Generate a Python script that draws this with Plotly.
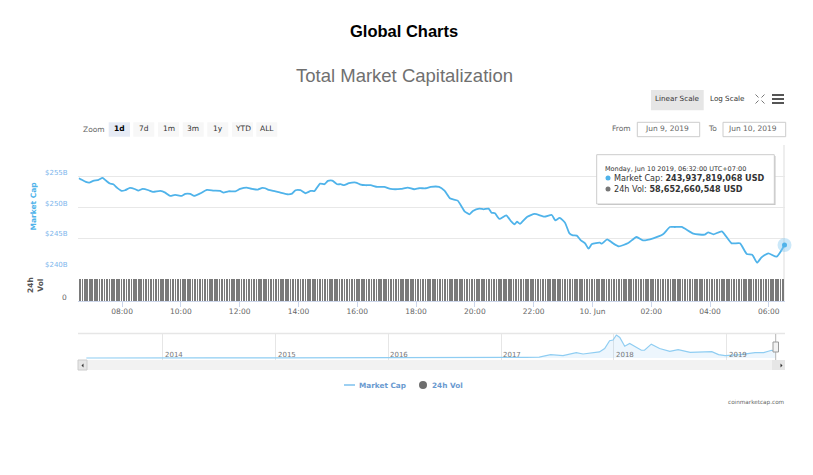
import pandas as pd
import plotly.graph_objects as go

W, H = 813, 475
FONT = "DejaVu Sans"

# market cap, 9 Jun -> 10 Jun 2019, billions USD
cap_times_jun9 = [
    "06:32", "06:37", "06:46", "06:53", "07:01", "07:12", "07:20", "07:27", "07:35", "07:42",
    "07:50", "07:59", "08:06", "08:16", "08:27", "08:33", "08:42", "08:54", "09:03", "09:18",
    "09:28", "09:38", "09:48", "10:02", "10:09", "10:19", "10:27", "10:40", "10:53", "11:07",
    "11:20", "11:27", "11:37", "11:51", "12:01", "12:14", "12:25", "12:37", "12:46", "12:52",
    "12:59", "13:13", "13:23", "13:37", "13:47", "13:54", "14:04", "14:14", "14:25", "14:33",
    "14:44", "14:53", "15:00", "15:09", "15:19", "15:26", "15:33", "15:43", "15:57", "16:07",
    "16:17", "16:27", "16:41", "16:55", "17:08", "17:29", "17:43", "17:56", "18:06", "18:20",
    "18:30", "18:47", "18:58", "19:10", "19:25", "19:39", "19:49", "19:56", "20:09", "20:18",
    "20:28", "20:34", "20:41", "20:50", "21:04", "21:14", "21:21", "21:26", "21:32", "21:47",
    "22:02", "22:22", "22:37", "22:44", "22:53", "23:04", "23:13", "23:20", "23:28", "23:37",
    "23:45", "23:52", "23:59",
]
cap_times_jun10 = [
    "00:15", "00:19", "00:30", "00:42", "00:54", "01:13", "01:30", "01:43", "02:04", "02:24",
    "02:38", "02:48", "03:02", "03:26", "03:49", "03:56", "04:07", "04:24", "04:44", "05:01",
    "05:15", "05:26", "05:36", "05:45", "05:59", "06:16", "06:32",
]
market_cap = [
    254.73, 254.51, 254.14, 254.03, 254.30, 254.46, 254.78, 254.35, 253.87, 253.76,
    253.17, 252.68, 252.79, 253.17, 252.95, 252.73, 253.00, 252.79, 252.52, 252.68,
    252.41, 251.87, 252.03, 251.87, 252.19, 252.19, 251.87, 252.30, 252.84, 252.73,
    252.68, 252.41, 252.62, 252.62, 253.00, 253.22, 253.00, 252.90, 253.17, 253.11,
    252.84, 252.62, 252.41, 252.14, 252.25, 252.79, 252.79, 252.30, 252.68, 252.68,
    253.87, 253.76, 254.30, 254.35, 253.76, 253.76, 253.60, 253.92, 254.03, 253.70,
    253.60, 253.60, 253.33, 253.33, 253.00, 253.00, 253.22, 252.95, 253.11, 253.11,
    253.33, 253.33, 252.73, 251.44, 251.11, 249.39, 248.90, 249.44, 249.82, 249.71,
    249.82, 249.17, 249.06, 248.15, 248.74, 247.77, 247.28, 247.71, 247.34, 248.52,
    248.96, 248.52, 248.79, 247.93, 248.31, 247.55, 245.83, 245.50, 245.45, 244.64,
    244.21, 243.34, 244.10,
    244.31, 244.15, 244.85, 244.21, 243.72, 244.26, 245.23, 244.69, 245.02, 245.66,
    246.85, 246.85, 246.85, 245.77, 245.61, 245.99, 245.66, 246.15, 244.21, 244.21,
    242.48, 242.37, 241.08, 241.94, 242.59, 242.05, 243.94,
]

# 24h volume every 5 minutes, billions USD, one row per hour
volume = [
    58.7, 58.7, 58.6, 58.7, 58.7, 58.6, 58.7, 58.7, 58.6, 58.7, 58.7, 58.6,
    58.7, 58.6, 58.7, 58.7, 58.6, 58.7, 58.7, 58.6, 58.7, 58.7, 58.6, 58.7,
    58.7, 58.5, 58.3, 58.6, 58.7, 58.7, 58.6, 58.7, 58.7, 58.6, 58.7, 58.7,
    58.6, 58.7, 58.7, 58.6, 58.7, 58.7, 58.6, 58.5, 58.3, 58.2, 58.3, 58.5,
    58.8, 58.9, 58.8, 58.6, 58.4, 58.3, 58.3, 58.4, 58.6, 58.7, 58.9, 59.0,
    58.8, 58.7, 58.6, 58.5, 58.5, 58.4, 58.4, 58.5, 58.5, 58.4, 58.4, 58.5,
    58.4, 58.4, 58.3, 58.4, 58.4, 58.5, 58.5, 58.4, 58.4, 58.3, 58.4, 58.4,
    58.4, 58.5, 58.4, 58.4, 58.3, 58.4, 58.4, 58.5, 58.4, 58.4, 58.3, 58.4,
    58.4, 58.4, 58.5, 58.4, 58.3, 58.3, 58.4, 58.4, 58.3, 58.2, 58.0, 57.8,
    57.7, 57.7, 57.6, 57.7, 57.7, 57.6, 57.6, 57.7, 57.6, 57.6, 57.7, 57.6,
    57.6, 57.7, 57.6, 57.6, 57.7, 57.7, 57.6, 57.6, 57.7, 57.6, 57.6, 57.7,
    57.7, 57.6, 57.7, 58.0, 57.7, 57.7, 57.6, 57.7, 57.6, 57.6, 57.7, 57.7,
    57.6, 57.7, 57.7, 57.6, 57.6, 57.7, 57.7, 58.3, 58.4, 58.4, 58.3, 58.4,
    58.4, 58.3, 58.3, 58.4, 58.4, 58.4, 58.3, 58.4, 58.4, 58.3, 58.4, 58.4,
    58.5, 58.4, 58.4, 58.5, 58.4, 58.4, 58.5, 58.4, 58.4, 58.3, 58.4, 58.4,
    58.3, 58.4, 58.4, 58.3, 58.2, 58.3, 58.3, 58.2, 58.3, 58.3, 58.6, 58.7,
    58.7, 58.6, 58.7, 58.7, 58.6, 58.7, 58.7, 58.6, 58.7, 58.7, 58.6, 58.7,
    58.7, 58.6, 58.7, 58.7, 58.6, 58.7, 58.7, 58.6, 58.7, 58.7, 58.6, 58.7,
    58.6, 58.7, 58.7, 58.6, 58.7, 58.7, 58.6, 58.7, 58.7, 58.6, 58.7, 58.7,
    58.7, 58.6, 58.7, 58.7, 58.6, 58.7, 58.7, 58.6, 58.7, 58.7, 58.6, 58.7,
    58.6, 58.7, 58.7, 58.6, 58.7, 58.7, 58.6, 58.7, 58.7, 58.6, 58.7, 58.7,
    58.7, 58.6, 58.7, 58.7, 58.6, 58.7, 58.7, 58.6, 58.7, 58.7, 58.6, 58.7,
    58.6, 58.7, 58.7, 58.6, 58.7, 58.7, 58.6, 58.7, 58.7, 58.6, 58.7, 58.7,
    58.7, 58.6, 58.7, 58.7, 58.6, 58.7, 58.7, 58.6, 58.7, 58.7, 58.6, 58.65,
]

# navigator, whole history
nav_dates = [
    "2013-04-28", "2013-12-01", "2014-06-01", "2015-01-15", "2016-01-15", "2016-06-15", "2017-01-01",
    "2017-03-22", "2017-05-04", "2017-06-10", "2017-07-20", "2017-09-01", "2017-09-23", "2017-11-15",
    "2017-12-02", "2017-12-18", "2017-12-29", "2018-01-09", "2018-01-20", "2018-02-05", "2018-02-21",
    "2018-03-09", "2018-03-31", "2018-04-10", "2018-05-02", "2018-05-29", "2018-07-01", "2018-07-28",
    "2018-09-05", "2018-11-14", "2018-12-06", "2018-12-27", "2019-02-14", "2019-04-03", "2019-05-01",
    "2019-05-27", "2019-06-10",
]
nav_cap = [
    2, 14, 8, 5, 7, 10, 17,
    24, 37, 122, 85, 195, 146, 220,
    342, 622, 647, 830, 744, 427, 525,
    427, 281, 281, 500, 342, 244, 305,
    207, 232, 122, 85, 122, 195, 195,
    281, 244,
]

cap_y_ticks = [240, 245, 250, 255, 260]
cap_y_labels = ["$240B", "$245B", "$250B", "$255B"]
time_ticks = ["2019-06-09 08:00", "2019-06-09 10:00", "2019-06-09 12:00", "2019-06-09 14:00", "2019-06-09 16:00",
              "2019-06-09 18:00", "2019-06-09 20:00", "2019-06-09 22:00", "2019-06-10 00:00", "2019-06-10 02:00",
              "2019-06-10 04:00", "2019-06-10 06:00"]
time_labels = ["08:00", "10:00", "12:00", "14:00", "16:00", "18:00", "20:00", "22:00", "10. Jun", "02:00", "04:00", "06:00"]
nav_years = ["2014", "2015", "2016", "2017", "2018", "2019"]
zoom_buttons = ["1d", "7d", "1m", "3m", "1y", "YTD", "ALL"]

cap_times = ["2019-06-09 " + t for t in cap_times_jun9] + ["2019-06-10 " + t for t in cap_times_jun10]
vol_times = pd.date_range("2019-06-09 06:34", periods=len(volume), freq="5min")


def xp(px):
    return px / W


def yp(py):
    return 1 - py / H


def label(px, py, text, size=8, color="#666666", anchor="center", angle=0, family=FONT):
    # annotation boxes carry 2px of padding, take it back on anchored text
    shift = {"left": -2, "right": 2, "center": 0}[anchor]
    return dict(xref="paper", yref="paper", x=xp(px), y=yp(py), xshift=shift, text=text, showarrow=False,
                xanchor=anchor, yanchor="middle", textangle=angle,
                font=dict(size=size, color=color, family=family))


def rect(x0, y0, x1, y1, fill, line=None, width=1):
    return dict(type="rect", xref="paper", yref="paper", x0=xp(x0), x1=xp(x1), y0=yp(y0), y1=yp(y1),
                fillcolor=fill, line=dict(color=line or fill, width=width if line else 0))


def seg(x0, y0, x1, y1, color, width=1):
    return dict(type="line", xref="paper", yref="paper", x0=xp(x0), x1=xp(x1), y0=yp(y0), y1=yp(y1),
                line=dict(color=color, width=width))


BLUE = "#4fb3ea"
GRID = "#e8e8e8"

fig = go.Figure()
fig.add_trace(go.Scatter(x=cap_times, y=market_cap, mode="lines",
                         line=dict(color=BLUE, width=1.8, shape="spline", smoothing=0.5), xaxis="x", yaxis="y"))
fig.add_trace(go.Scatter(x=cap_times[-1:], y=market_cap[-1:], mode="markers", cliponaxis=False,
                         marker=dict(size=14, color="rgba(124,197,240,0.4)"), xaxis="x", yaxis="y"))
fig.add_trace(go.Scatter(x=cap_times[-1:], y=market_cap[-1:], mode="markers", cliponaxis=False,
                         marker=dict(size=5, color=BLUE), xaxis="x", yaxis="y"))
fig.add_trace(go.Bar(x=vol_times, y=volume, width=205000, marker=dict(color="#7a7a7a", line=dict(width=0)),
                     xaxis="x", yaxis="y2"))
fig.add_trace(go.Scatter(x=nav_dates, y=nav_cap, mode="lines", line=dict(color="#8fcdf2", width=1.2),
                         fill="tozeroy", fillcolor="rgba(124,190,240,0.14)", xaxis="x3", yaxis="y3"))

crosshair = seg(784, 145, 784, 301, "#dddddd", 1)
crosshair["layer"] = "below"

shapes = [
    rect(108.7, 122.3, 130, 136.7, "#e6ebf5"),
    rect(651, 90, 703.7, 110.3, "#e6e6e6"),
    rect(637.3, 122.3, 699.7, 136.7, "#ffffff", "#cccccc"),
    rect(723, 122.3, 785.7, 136.7, "#ffffff", "#cccccc"),
    # navigator border + scrollbar
    seg(78, 333.5, 785, 333.5, "#e6e6e6", 1.5),
    rect(78, 360, 785, 370, "#f2f2f2"),
    rect(78, 360, 87, 370, "#e6e6e6", "#cccccc"),
    rect(772, 360, 785, 370, "#e6e6e6"),
    dict(type="path", xref="paper", yref="paper", fillcolor="#333333", line=dict(width=0),
         path=f"M {xp(83.5)} {yp(363.5)} L {xp(81.5)} {yp(365.5)} L {xp(83.5)} {yp(367.5)} Z"),
    dict(type="path", xref="paper", yref="paper", fillcolor="#333333", line=dict(width=0),
         path=f"M {xp(780.5)} {yp(363.5)} L {xp(782.5)} {yp(365.5)} L {xp(780.5)} {yp(367.5)} Z"),
    seg(775.7, 334, 775.7, 360, "#b5b5b5", 1),
    rect(773, 342, 778.5, 352, "#f2f2f2", "#999999"),
    crosshair,
    # tooltip
    rect(598, 156, 775.5, 205, "#c4c4c4"),
    rect(596.7, 154.7, 774.3, 204, "#ffffff", "#cccccc"),
    dict(type="circle", xref="paper", yref="paper", x0=xp(605.5), x1=xp(610.5), y0=yp(175.5), y1=yp(180.5),
         fillcolor=BLUE, line=dict(width=0)),
    dict(type="circle", xref="paper", yref="paper", x0=xp(605.5), x1=xp(610.5), y0=yp(186.5), y1=yp(191.5),
         fillcolor="#777777", line=dict(width=0)),
    # legend
    seg(344, 385, 355, 385, "#7cc0ee", 1.5),
    dict(type="circle", xref="paper", yref="paper", x0=xp(419), x1=xp(427), y0=yp(381), y1=yp(389),
         fillcolor="#6e6e6e", line=dict(width=0)),
    # menu icon
    seg(772, 95, 784, 95, "#555555", 2),
    seg(772, 99, 784, 99, "#555555", 2),
    seg(772, 103, 784, 103, "#555555", 2),
    # fullscreen icon
    seg(755.5, 94.5, 758.5, 97.5, "#777777"), seg(764.5, 94.5, 761.5, 97.5, "#777777"),
    seg(755.5, 103.5, 758.5, 100.5, "#777777"), seg(764.5, 103.5, 761.5, 100.5, "#777777"),
]

btn_left = [108.7, 133.3, 158, 182.7, 207.3, 232, 256.3]
for left in btn_left[1:]:
    shapes.append(rect(left, 122.3, left + 21, 136.7, "#f7f7f7"))

annotations = [
    label(404, 31, "<b>Global Charts</b>", 16.5, "#000000", family="Liberation Sans"),
    label(404, 75, "Total Market Capitalization", 18.5, "#707070", family="Liberation Sans"),
    label(93.5, 129.5, "Zoom", 7.5),
    label(677, 98.5, "Linear Scale", 7.2, "#333333"),
    label(727.7, 98.5, "Log Scale", 7.2, "#333333"),
    label(621, 128, "From", 7.5),
    label(666.7, 128.5, "Jun 9, 2019", 7.5),
    label(712, 128, "To", 7.5),
    label(752, 128.5, "Jun 10, 2019", 7.5),
    label(32.5, 206, "<b>Market Cap</b>", 7.5, "#4fb3ea", angle=-90),
    label(35, 285, "<b>24h<br>Vol</b>", 7.5, "#555555", angle=-90),
    label(64, 297, "0", 7.5),
    label(604.7, 168.5, "Monday, Jun 10 2019, 06:32:00 UTC+07:00", 6.5, "#333333", anchor="left"),
    label(613.5, 177.5, "Market Cap: <b>243,937,819,068 USD</b>", 8.1, "#333333", anchor="left"),
    label(613.5, 189, "24h Vol: <b>58,652,660,548 USD</b>", 8.1, "#333333", anchor="left"),
    label(359, 385, "<b>Market Cap</b>", 7.3, "#6a9ad0", anchor="left"),
    label(432, 385, "<b>24h Vol</b>", 7.3, "#6a9ad0", anchor="left"),
    label(785, 402, "coinmarketcap.com", 5.7, "#666666", anchor="right"),
]
for left, name in zip(btn_left, zoom_buttons):
    text = f"<b>{name}</b>" if name == "1d" else name
    annotations.append(label(left + 10.5, 128.5, text, 7.5, "#000000" if name == "1d" else "#333333"))
for tick, name in zip(cap_y_ticks, cap_y_labels):
    annotations.append(dict(xref="paper", yref="y", x=xp(69.5), y=tick, yshift=4, text=name, showarrow=False,
                            xanchor="right", yanchor="middle", font=dict(size=7, color="#7cb5ec", family=FONT)))
for year in nav_years:
    annotations.append(dict(xref="x3", yref="paper", x=f"{year}-01-01", y=yp(355), xshift=0, text=year, showarrow=False,
                            xanchor="left", yanchor="middle", font=dict(size=7, color="#777777", family=FONT)))

fig.update_layout(
    width=W, height=H, margin=dict(l=0, r=0, t=0, b=0),
    paper_bgcolor="white", plot_bgcolor="white", showlegend=False, bargap=0,
    font=dict(family=FONT),
    xaxis=dict(domain=[xp(78), xp(785)], anchor="y2", type="date",
               range=["2019-06-09 06:30", "2019-06-10 06:33"],
               tickvals=time_ticks, ticktext=time_labels, ticks="outside", ticklen=5, tickcolor="#ccd6eb",
               ticklabelstandoff=-2,
               tickfont=dict(size=7.5, color="#666666"), showgrid=False, showline=True, linecolor="#ccd6eb", zeroline=False),
    yaxis=dict(domain=[yp(270), yp(145)], range=[239.9, 260.1], anchor="x", tickvals=cap_y_ticks,
               showticklabels=False, gridcolor=GRID, gridwidth=1.5, zeroline=False),
    yaxis2=dict(domain=[yp(301), yp(270)], range=[0, 82.6], anchor="x", showticklabels=False,
                showgrid=False, zeroline=False),
    xaxis3=dict(domain=[xp(78), xp(776)], anchor="y3", type="date", range=["2013-04-01", "2019-06-10"],
                tickvals=[f"{y}-01-01" for y in nav_years], showticklabels=False, ticks="",
                gridcolor="#e6e6e6", zeroline=False),
    yaxis3=dict(domain=[yp(360), yp(334)], range=[-70, 866], anchor="x3", showticklabels=False,
                showgrid=False, zeroline=False),
    shapes=shapes, annotations=annotations,
)

# page default margin would push the chart 8px off; staticPlot drops the modebar and bar pixel snapping
fig.write_html("out.html", config={"staticPlot": True}, post_script="document.body.style.margin = '0';")
